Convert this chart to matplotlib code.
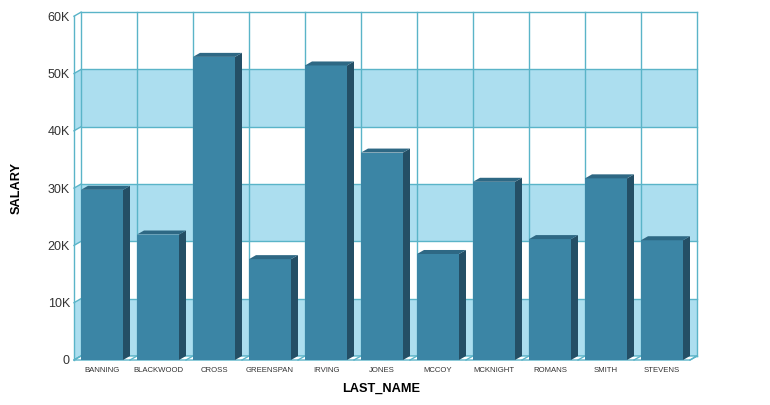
import matplotlib
matplotlib.use('Agg')
import matplotlib.pyplot as plt
from matplotlib.patches import Polygon, Rectangle

plt.rcParams['font.family'] = ['Liberation Sans', 'DejaVu Sans']

# data
names = ['BANNING', 'BLACKWOOD', 'CROSS', 'GREENSPAN', 'IRVING', 'JONES',
         'MCCOY', 'MCKNIGHT', 'ROMANS', 'SMITH', 'STEVENS']
salary = [29700, 21900, 52900, 17600, 51400, 36200, 18500, 31100, 21100, 31700, 20900]
yticks = [0, 10000, 20000, 30000, 40000, 50000, 60000]
ytick_labels = ['0', '10K', '20K', '30K', '40K', '50K', '60K']

# colours
band = '#acdeef'
grid = '#5ab4c8'
front = '#3b85a5'
side = '#244f66'
top = '#2e6884'

W, H = 770, 405
fig = plt.figure(figsize=(W / 100, H / 100), dpi=100)
ax = fig.add_axes([74 / W, 1 - 360 / H, (690 - 74) / W, (360 - 16.2) / H])
n = len(names)
ax.set_xlim(-0.5, n - 0.5)
ax.set_ylim(0, 60000)
for s in ax.spines.values():
    s.set_visible(False)

# 3d depth offset in data units
dx, dy = 0.125, 700
x0, x1 = -0.5, n - 0.5

# back wall and left wall with bands
for k in range(6):
    lo, hi = yticks[k], yticks[k + 1]
    col = band if k % 2 == 0 else 'white'
    ax.add_patch(Rectangle((x0 + dx, lo + dy), n, hi - lo, facecolor=col,
                           edgecolor='none', clip_on=False, zorder=0))
    ax.add_patch(Polygon([(x0, lo), (x0 + dx, lo + dy), (x0 + dx, hi + dy), (x0, hi)],
                         facecolor=col, edgecolor='none', clip_on=False, zorder=0))
for y in yticks:
    ax.plot([x0 + dx, x1 + dx], [y + dy, y + dy], color=grid, lw=1, clip_on=False, zorder=1)
    ax.plot([x0, x0 + dx], [y, y + dy], color=grid, lw=1, clip_on=False, zorder=1)
for i in range(n + 1):
    ax.plot([x0 + dx + i, x0 + dx + i], [dy, 60000 + dy], color=grid, lw=1,
            clip_on=False, zorder=1)
ax.plot([x0, x0], [0, 60000], color=grid, lw=1, clip_on=False, zorder=1)

# floor
ax.add_patch(Polygon([(x0, 0), (x1, 0), (x1 + dx, dy), (x0 + dx, dy)], facecolor='white',
                     edgecolor=grid, lw=1, clip_on=False, zorder=1))
for i in range(n + 1):
    ax.plot([x0 + i, x0 + i + dx], [0, dy], color=grid, lw=1, clip_on=False, zorder=1)

# bars: front, side, top faces
hw = 0.375
for i, v in enumerate(salary):
    ax.add_patch(Polygon([(i - hw, 0), (i + hw, 0), (i + hw, v), (i - hw, v)],
                         facecolor=front, edgecolor='none', clip_on=False, zorder=3))
    ax.add_patch(Polygon([(i + hw, 0), (i + hw + dx, dy), (i + hw + dx, v + dy), (i + hw, v)],
                         facecolor=side, edgecolor='none', clip_on=False, zorder=3))
    ax.add_patch(Polygon([(i - hw, v), (i + hw, v), (i + hw + dx, v + dy), (i - hw + dx, v + dy)],
                         facecolor=top, edgecolor='none', clip_on=False, zorder=3))

ax.set_yticks(yticks)
ax.set_yticklabels(ytick_labels, fontsize=9, color='#333333')
ax.set_xticks(range(n))
ax.set_xticklabels(names, fontsize=5.6, color='#333333')
ax.tick_params(axis='y', length=0, pad=3)
ax.tick_params(axis='x', length=0, pad=5)

fig.text(17 / W, 1 - 188 / H, 'SALARY', rotation=90, fontsize=9.2, fontweight='bold',
         ha='center', va='center')
fig.text(381 / W, 1 - 389 / H, 'LAST_NAME', fontsize=9.2, fontweight='bold',
         ha='center', va='center')

fig.savefig('out.png', dpi=100)
